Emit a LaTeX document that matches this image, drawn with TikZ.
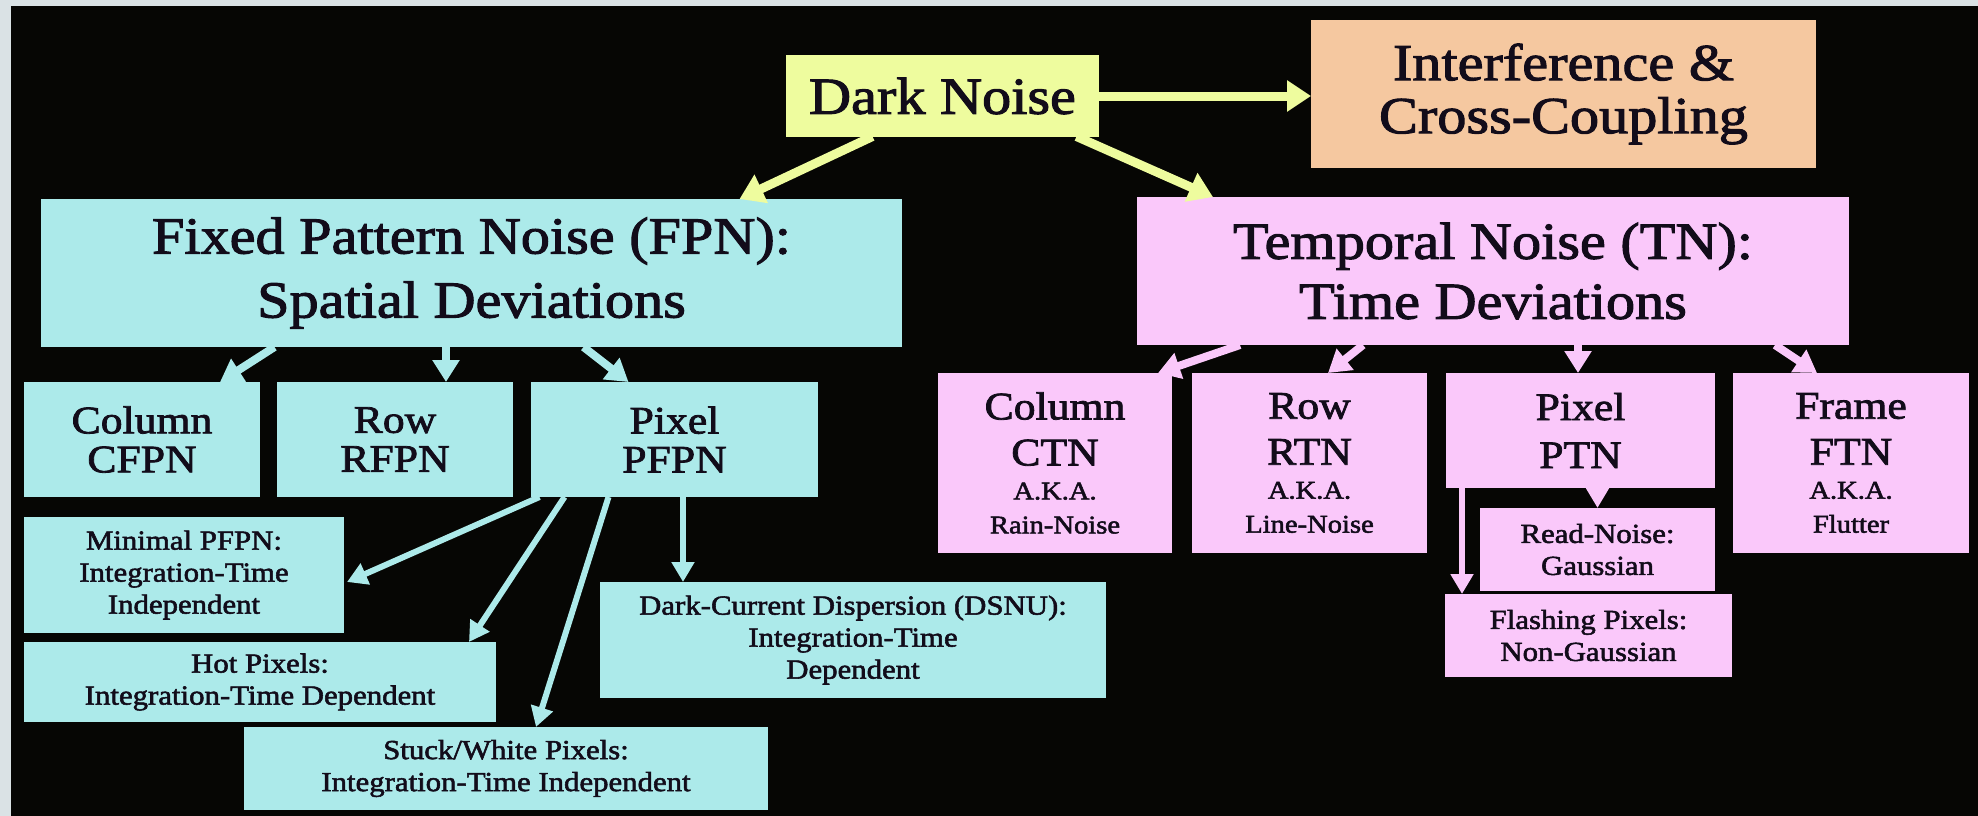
\documentclass[tikz,border=0pt]{standalone}
\usepackage{fontspec}
\setmainfont{Liberation Serif}[FakeStretch=1.12, FakeBold=2]
\usetikzlibrary{arrows.meta}

\definecolor{frameblue}{RGB}{218,226,229}
\definecolor{slateback}{RGB}{6,6,4}
\definecolor{fillyellow}{RGB}{238,252,158}
\definecolor{fillpeach}{RGB}{245,200,160}
\definecolor{fillcyan}{RGB}{172,234,234}
\definecolor{fillpink}{RGB}{250,200,250}
\definecolor{inkdark}{RGB}{18,12,26}

\newcommand{\fntTitle}{\fontsize{52}{53}\selectfont}
\newcommand{\fntMid}{\fontsize{39}{39}\selectfont}
\newcommand{\fntSmall}{\fontsize{27.5}{32}\selectfont}
\newcommand{\fntAka}{\fontsize{25.5}{34}\selectfont}

\begin{document}
\begin{tikzpicture}[x=1pt,y=-1pt,
  box/.style={rectangle, inner sep=0pt, outer sep=0pt, text=inkdark, align=center},
  ybox/.style={box, fill=fillyellow},
  obox/.style={box, fill=fillpeach},
  cbox/.style={box, fill=fillcyan},
  pbox/.style={box, fill=fillpink},
  bigarrow/.style={-{Triangle[length=24pt,width=30pt]}, line width=9pt},
  midarrow/.style={-{Triangle[length=22pt,width=26pt]}, line width=8pt},
  thinarrow/.style={-{Triangle[length=20pt,width=22pt]}, line width=6pt},
]
\useasboundingbox (0,0) rectangle (1978,816);
\fill[frameblue] (0,0) rectangle (1978,816);
\fill[slateback] (11,6) rectangle (1978,816);

% top level
\node[ybox, minimum width=313pt, minimum height=81pt, font=\fntTitle] (dark) at (942.5,96) {Dark Noise};
\node[obox, minimum width=505pt, minimum height=148pt, font=\fntTitle] (interf) at (1563.5,94) {Interference \&\\Cross-Coupling};

% second level
\node[cbox, minimum width=861pt, minimum height=148pt, font=\fntTitle] (fpn) at (471.5,273) {Fixed Pattern Noise (FPN):\\[11pt]Spatial Deviations};
\node[pbox, minimum width=712pt, minimum height=148pt, font=\fntTitle] (tn) at (1493,271) {Temporal Noise (TN):\\[7pt]Time Deviations};

% fixed pattern branches
\node[cbox, minimum width=236pt, minimum height=115pt, font=\fntMid] (cfpn) at (142,439.5) {Column\\CFPN};
\node[cbox, minimum width=236pt, minimum height=115pt, font=\fntMid] (rfpn) at (395,439.5) {Row\\RFPN};
\node[cbox, minimum width=287pt, minimum height=115pt, font=\fntMid] (pfpn) at (674.5,439.5) {Pixel\\PFPN};

\node[cbox, minimum width=320pt, minimum height=116pt, font=\fntSmall] (minimal) at (184,575) {Minimal PFPN:\\Integration-Time\\Independent};
\node[cbox, minimum width=472pt, minimum height=80pt, font=\fntSmall] (hot) at (260,682) {Hot Pixels:\\Integration-Time Dependent};
\node[cbox, minimum width=524pt, minimum height=83pt, font=\fntSmall] (stuck) at (506,768.5) {Stuck/White Pixels:\\Integration-Time Independent};
\node[cbox, minimum width=506pt, minimum height=116pt, font=\fntSmall] (dsnu) at (853,640) {Dark-Current Dispersion (DSNU):\\Integration-Time\\Dependent};

% temporal branches
\node[pbox, minimum width=234pt, minimum height=180pt, font=\fntAka] (ctn) at (1055,463) {{\fntMid Column}\\[12pt]{\fntMid CTN}\\A.K.A.\\Rain-Noise};
\node[pbox, minimum width=235pt, minimum height=180pt, font=\fntAka] (rtn) at (1309.5,463) {{\fntMid Row}\\[12pt]{\fntMid RTN}\\A.K.A.\\Line-Noise};
\node[pbox, minimum width=269pt, minimum height=115pt, font=\fntMid] (ptn) at (1580.5,430.5) {Pixel\\[9pt]PTN};
\node[pbox, minimum width=236pt, minimum height=180pt, font=\fntAka] (ftn) at (1851,463) {{\fntMid Frame}\\[12pt]{\fntMid FTN}\\A.K.A.\\Flutter};

\node[pbox, minimum width=235pt, minimum height=83pt, font=\fntSmall] (readn) at (1597.5,549.5) {Read-Noise:\\Gaussian};
\node[pbox, minimum width=287pt, minimum height=83pt, font=\fntSmall] (flash) at (1588.5,635.5) {Flashing Pixels:\\Non-Gaussian};

% connectors from the root
\draw[bigarrow, fillyellow] ([xshift=-70pt]dark.south) -- ([xshift=268pt]fpn.north);
\draw[bigarrow, fillyellow] ([xshift=134pt]dark.south) -- ([xshift=-280pt]tn.north);
\draw[bigarrow, fillyellow] (dark.east) -- (dark.east -| interf.west);

% fixed pattern connectors
\draw[midarrow, fillcyan] ([xshift=-197pt]fpn.south) -- ([xshift=78pt]cfpn.north);
\draw[midarrow, fillcyan] ([xshift=-25.5pt]fpn.south) -- ([xshift=51pt]rfpn.north);
\draw[midarrow, fillcyan] ([xshift=112pt]fpn.south) -- ([xshift=-46pt]pfpn.north);

\draw[thinarrow, fillcyan] ([xshift=-135pt]pfpn.south) -- ([yshift=-7pt,xshift=3pt]minimal.east);
\draw[thinarrow, fillcyan] ([xshift=-110pt]pfpn.south) -- ([xshift=209pt]hot.north);
\draw[thinarrow, fillcyan] ([xshift=-66pt]pfpn.south) -- ([xshift=30pt]stuck.north);
\draw[thinarrow, fillcyan] ([xshift=8.5pt]pfpn.south) -- ([xshift=-170pt]dsnu.north);

% temporal connectors
\draw[midarrow, fillpink] ([xshift=-253pt]tn.south) -- ([xshift=103pt]ctn.north);
\draw[midarrow, fillpink] ([xshift=-130pt]tn.south) -- ([xshift=18.5pt]rtn.north);
\draw[midarrow, fillpink] ([xshift=85pt]tn.south) -- ([xshift=-2.5pt]ptn.north);
\draw[midarrow, fillpink] ([xshift=282pt]tn.south) -- ([xshift=-34pt]ftn.north);

\draw[thinarrow, fillpink] (ptn.south -| readn.north) -- (readn.north);
\draw[thinarrow, fillpink] ([xshift=-118.5pt]ptn.south) -- ([xshift=-126.5pt]flash.north);
\end{tikzpicture}
\end{document}
